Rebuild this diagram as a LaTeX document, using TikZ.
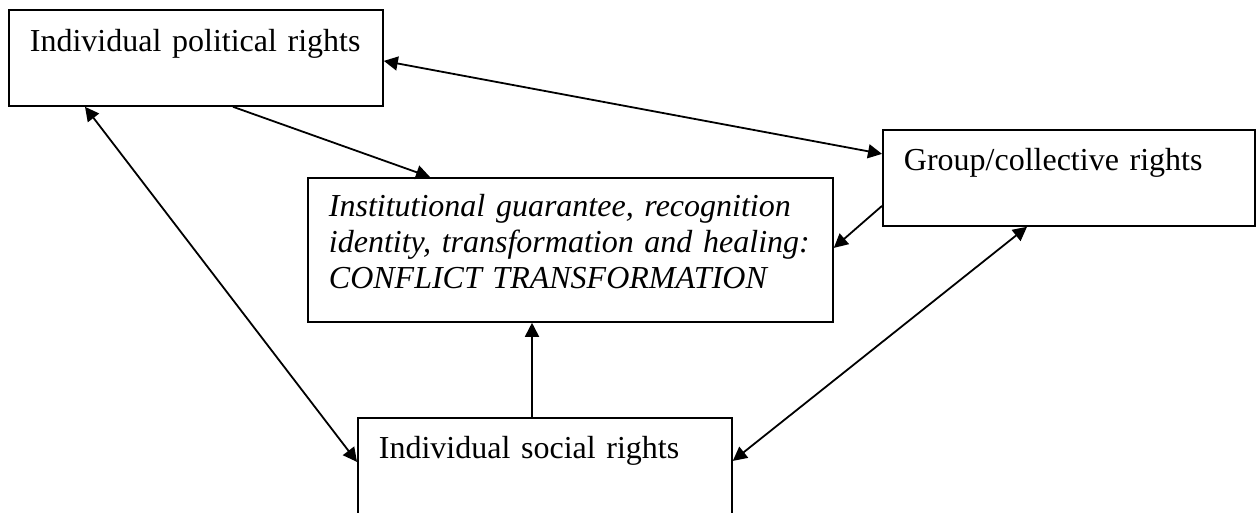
\documentclass[tikz,border=0pt]{standalone}
\usepackage{fontspec}
\setmainfont{Liberation Serif}
\usepackage{tikz}
\usetikzlibrary{arrows.meta}

\begin{document}
\begin{tikzpicture}[x=0.5pt,y=-0.5pt,>={Triangle[length=7pt,width=7pt]},line width=0.9pt,
    rightsbox/.style={draw,rectangle,anchor=north west,align=left,inner xsep=10.5pt,inner ysep=0pt,
      font=\fontsize{16}{18}\selectfont}]
  \useasboundingbox (0,0) rectangle (1256,513);
  \node[rightsbox,text width=166pt,text height=21pt,text depth=27pt]      (polit)  at (8,9)     {Individual political rights};
  \node[rightsbox,text width=165pt,text height=20.5pt,text depth=27.5pt]  (group)  at (882,129) {Group/collective rights};
  \node[rightsbox,text width=241.5pt,text height=19.5pt,text depth=52.5pt,font=\fontsize{16}{18}\selectfont\itshape]
    (guarantee) at (307,177) {Institutional guarantee, recognition\\identity, transformation and healing:\\CONFLICT TRANSFORMATION};
  \node[rightsbox,text width=166pt,text height=20.5pt,text depth=28pt]    (social) at (357,417) {Individual social rights};
  %
  \draw[<->] ([yshift=-1.5pt]polit.east) -- ([yshift=12pt]group.west);
  \draw[->] ([xshift=112.5pt]polit.south west) -- ([xshift=61.5pt]guarantee.north west);
  \draw[->] ([yshift=-14pt]group.west) -- ([yshift=1pt]guarantee.east);
  \draw[<->] ([yshift=2.75pt]social.east) -- ([xshift=72.5pt]group.south west);
  \draw[<->] ([xshift=38.5pt]polit.south west) -- ([yshift=2.25pt]social.west);
  \draw[->] ([xshift=87.5pt]social.north west) -- ([xshift=112.5pt]guarantee.south west);
\end{tikzpicture}
\end{document}
